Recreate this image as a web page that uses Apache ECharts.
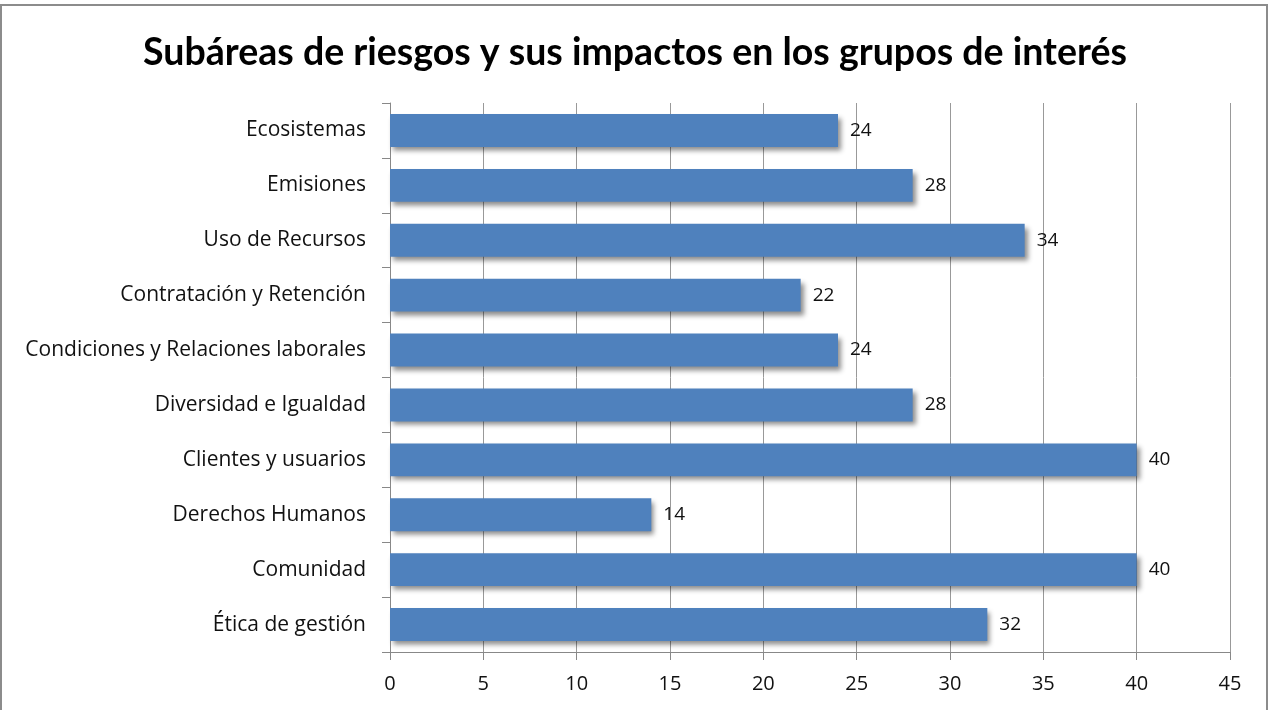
<!DOCTYPE html>
<html><head><meta charset="utf-8">
<script src="https://cdn.jsdelivr.net/npm/echarts@6/dist/echarts.min.js"></script>
<style>
html,body{margin:0;padding:0;background:#fff;overflow:hidden}
#c{width:1270px;height:710px;position:absolute;left:0;top:0}
#b{position:absolute;left:0;top:4px;width:1264px;height:720px;border:2px solid #8c8c8c;pointer-events:none}
</style></head><body>
<div id="c"></div><div id="b"></div>
<script>
const title = 'Subáreas de riesgos y sus impactos en los grupos de interés';
const categories = ['Ecosistemas','Emisiones','Uso de Recursos','Contratación y Retención','Condiciones y Relaciones laborales','Diversidad e Igualdad','Clientes y usuarios','Derechos Humanos','Comunidad','Ética de gestión'];
const values = [24,28,34,22,24,28,40,14,40,32];
const xTicks = {min:0,max:45,interval:5};

const font = '"Open Sans", Lato, sans-serif';
const chart = echarts.init(document.getElementById('c'));
chart.setOption({
  animation:false,
  title:{text:title,left:'center',top:29,textStyle:{fontFamily:'Lato, sans-serif',fontWeight:'bold',fontSize:37.5,color:'#000'}},
  grid:{left:390,right:40,top:103,bottom:58,containLabel:false},
  xAxis:{type:'value',min:xTicks.min,max:xTicks.max,interval:xTicks.interval,
    axisLine:{show:true,lineStyle:{color:'#888'}},
    axisTick:{show:true,length:8,lineStyle:{color:'#888'}},
    axisLabel:{fontFamily:font,fontSize:20,color:'#111',margin:22},
    splitLine:{show:true,lineStyle:{color:'#999'}}},
  yAxis:{type:'category',data:categories,inverse:true,
    axisLine:{show:true,lineStyle:{color:'#888'}},
    axisTick:{show:true,length:8,lineStyle:{color:'#888'}},
    axisLabel:{fontFamily:font,fontSize:21,color:'#111',margin:24}},
  series:[{type:'bar',data:values,barCategoryGap:'40%',
    itemStyle:{color:'#4f81bd',shadowColor:'rgba(0,0,0,0.45)',shadowBlur:5,shadowOffsetX:3,shadowOffsetY:4},
    label:{show:true,position:'right',distance:12,fontFamily:font,fontSize:19,color:'#111'}}]
});
</script></body></html>
